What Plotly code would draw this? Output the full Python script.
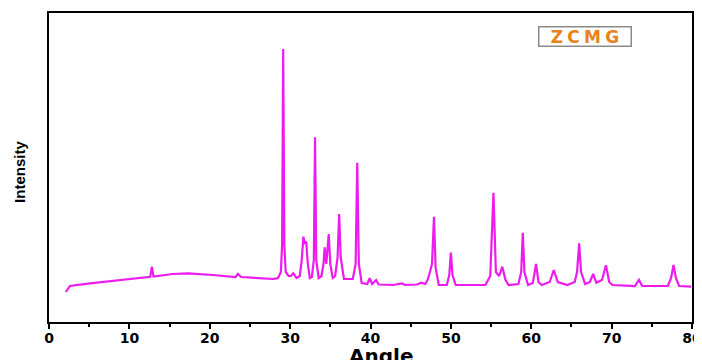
import plotly.graph_objects as go

# XRD pattern of ZCMG (2-theta in degrees, intensity in a.u.)
angle = [
    2.1, 2.6, 5.1, 9.2, 12.3, 12.6, 12.8, 13.0, 15.4, 17.3, 20.4, 22.9,
    23.2, 23.5, 23.9, 27.9, 28.5, 28.85, 29.0, 29.14, 29.28, 29.45, 29.8,
    30.1, 30.4, 30.8, 31.2, 31.45, 31.65, 31.8, 32.0, 32.2, 32.45,
    32.7, 32.95, 33.1, 33.25, 33.55, 33.9, 34.15, 34.3, 34.5, 34.8, 35.0, 35.3,
    35.6, 35.9, 36.1, 36.3, 36.7, 37.8, 38.15, 38.35, 38.55, 38.9,
    39.6, 39.9, 40.2, 40.7, 41.0, 42.8, 43.9, 44.3, 45.8, 46.3, 46.8,
    47.1, 47.4, 47.65, 47.9, 48.1, 48.5, 49.5, 49.8, 50.0, 50.2, 50.6,
    54.3, 54.9, 55.3, 55.6, 56.0, 56.4, 56.8, 57.2,
    58.4, 58.75, 58.95, 59.15, 59.6, 60.2, 60.6, 60.9, 61.3,
    62.3, 62.8, 63.3, 64.5, 65.4, 65.7, 65.96, 66.2, 66.7,
    67.3, 67.7, 68.1, 68.8, 69.3, 69.7, 70.1, 72.9, 73.4, 73.8,
    77.0, 77.4, 77.7, 78.0, 78.4, 79.9,
]
intensity = [
    280, 340, 367, 400, 430, 432, 533, 435, 460, 467, 450, 430,
    428, 460, 430, 410, 420, 480, 750, 2710, 750, 480, 440,
    440, 467, 420, 440, 600, 833, 770, 783, 560, 420,
    430, 600, 1827, 600, 420, 440, 560, 727, 560, 860, 560, 420,
    440, 620, 1060, 620, 410, 410, 560, 1573, 560, 370,
    360, 417, 360, 400, 355, 350, 365, 350, 355, 373, 360,
    400, 483, 560, 1033, 520, 350, 350, 450, 673, 450, 350,
    350, 440, 1273, 480, 440, 533, 400, 350,
    360, 480, 873, 480, 350, 370, 560, 380, 350,
    380, 500, 380, 350, 380, 480, 767, 480, 360,
    380, 460, 373, 400, 547, 380, 350, 340, 400, 340,
    340, 420, 550, 420, 340, 333,
]

x_ticks = [0, 10, 20, 30, 40, 50, 60, 70, 80]
legend_label = "Z\u2005C\u2005M\u2005G"

fig = go.Figure()
fig.add_trace(go.Scatter(
    x=angle, y=intensity, mode="lines",
    line=dict(color="#EE1BEE", width=2.2),
    showlegend=False, hoverinfo="skip",
))

# page body has an 8px margin, so the figure is 694x352 placed at (8, 8)
fig.update_layout(
    width=694, height=352,
    margin=dict(l=41, r=10, t=5, b=38, autoexpand=False),
    paper_bgcolor="white", plot_bgcolor="white",
    xaxis=dict(
        range=[0, 80], tickvals=x_ticks, ticktext=[str(v) for v in x_ticks],
        ticks="outside", ticklen=5, tickwidth=2, tickcolor="black",
        ticklabelstandoff=-3,
        minor=dict(dtick=5, tick0=0, ticks="outside", ticklen=3, tickwidth=2, tickcolor="black"),
        showline=True, linecolor="black", linewidth=2, mirror=True,
        showgrid=False, zeroline=False,
        tickfont=dict(family="DejaVu Sans", size=14, color="black", weight="bold"),
    ),
    yaxis=dict(
        range=[-20, 3070], showticklabels=False, ticks="",
        showline=True, linecolor="black", linewidth=2, mirror=True,
        showgrid=False, zeroline=False,
    ),
    annotations=[
        dict(text="Angle", xref="paper", yref="paper", x=0.517, y=-0.11,
             xanchor="center", yanchor="middle", showarrow=False,
             font=dict(family="DejaVu Sans", size=20, color="black", weight="bold")),
        dict(text="Intensity", xref="paper", yref="paper", x=-0.047, y=0.485,
             xanchor="center", yanchor="middle", textangle=-90, showarrow=False,
             font=dict(family="Liberation Sans", size=15, color="black", weight="bold")),
        dict(text=legend_label, xref="paper", yref="paper", x=0.834, y=0.925,
             xanchor="center", yanchor="middle", showarrow=False,
             width=89, height=16, borderpad=1, borderwidth=1.5, bordercolor="#8a8a8a",
             bgcolor="white",
             font=dict(family="DejaVu Sans", size=17, color="#E8821A", weight="bold")),
    ],
)

fig.write_html("out.html")
